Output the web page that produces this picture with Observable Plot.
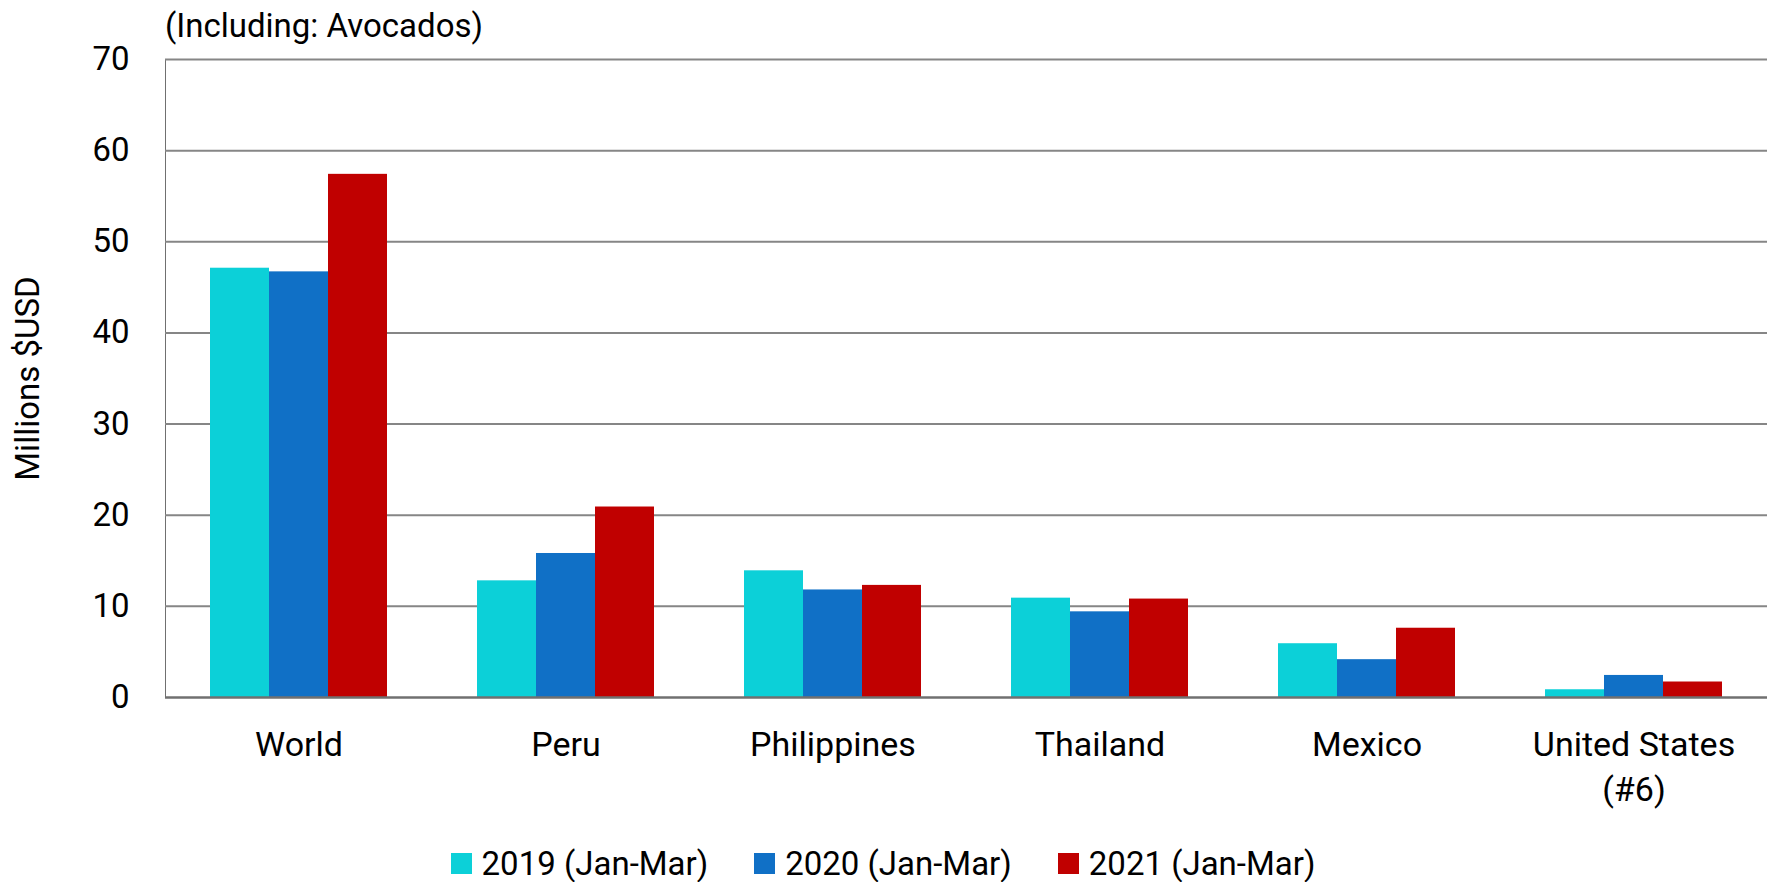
<!DOCTYPE html>
<html><head><meta charset="utf-8">
<script src="https://cdn.jsdelivr.net/npm/d3@7"></script>
<script src="https://cdn.jsdelivr.net/npm/@observablehq/plot@0.6"></script>
<style>
html,body{margin:0;padding:0;background:#fff;}
#wrap{position:relative;width:1776px;height:882px;font-family:Roboto,sans-serif;color:#000;overflow:hidden;}
#title{position:absolute;left:165px;top:9px;font-size:33px;line-height:33px;white-space:nowrap;}
#chart svg{display:block;}
#chart svg text{fill:#000;}
#legend{display:flex;justify-content:center;align-items:center;height:52px;box-sizing:border-box;padding-top:15px;padding-right:10px;font-size:33px;line-height:37px;}
.item{display:flex;align-items:center;margin:0 23px;}
.sw{width:21px;height:21px;margin-right:10px;}
</style>
</head><body>
<div id="wrap">
  <div id="chart"></div>
  <div id="title"></div>
  <div id="legend"></div>
</div>
<script>
const titleText = "(Including: Avocados)";
const yLabel = "Millions $USD";
const categories = ["World", "Peru", "Philippines", "Thailand", "Mexico", "United States\n(#6)"];
const years = ["2019 (Jan-Mar)", "2020 (Jan-Mar)", "2021 (Jan-Mar)"];
const v2019 = [47.1, 12.8, 13.9, 10.9, 5.9, 0.85];
const v2020 = [46.7, 15.8, 11.8, 9.4, 4.15, 2.42];
const v2021 = [57.4, 20.9, 12.3, 10.8, 7.6, 1.7];
const yTicks = [0, 10, 20, 30, 40, 50, 60, 70];
const colors = ["#0CD0D8", "#1070C6", "#C00000"];

const series = [v2019, v2020, v2021];
const rows = [];
categories.forEach((c, i) => years.forEach((y, j) => rows.push({country: c, year: y, value: series[j][i]})));

const chart = Plot.plot({
  width: 1776, height: 830,
  marginTop: 59, marginBottom: 133, marginLeft: 164, marginRight: 8,
  style: {fontFamily: "Roboto", fontSize: "33px", color: "#707070", background: "white"},
  facet: {data: rows, x: "country"},
  fx: {domain: categories, padding: 0},
  x: {domain: years, axis: null, paddingInner: 0, paddingOuter: 0.75},
  y: {domain: [0, 70], ticks: yTicks, tickSize: 0, tickPadding: 36, line: true,
      label: yLabel, labelAnchor: "center", labelArrow: "none", labelOffset: 150},
  color: {domain: years, range: colors},
  marks: [
    Plot.ruleY(yTicks.slice(1), {stroke: "#868686", strokeWidth: 2}),
    Plot.barY(rows, {x: "year", y: "value", fill: "year"}),
    Plot.ruleY([0], {stroke: "#707070", strokeWidth: 2.5}),
    Plot.axisFx({anchor: "bottom", tickSize: 0, tickPadding: 26, lineHeight: 1.33, fontSize: 34, label: null})
  ]
});
document.getElementById("chart").appendChild(chart);
document.getElementById("title").textContent = titleText;
const leg = document.getElementById("legend");
years.forEach((y, j) => {
  const it = document.createElement("div"); it.className = "item";
  const sw = document.createElement("div"); sw.className = "sw"; sw.style.background = colors[j];
  const tx = document.createElement("span"); tx.textContent = y;
  it.appendChild(sw); it.appendChild(tx); leg.appendChild(it);
});
</script>
</body></html>
